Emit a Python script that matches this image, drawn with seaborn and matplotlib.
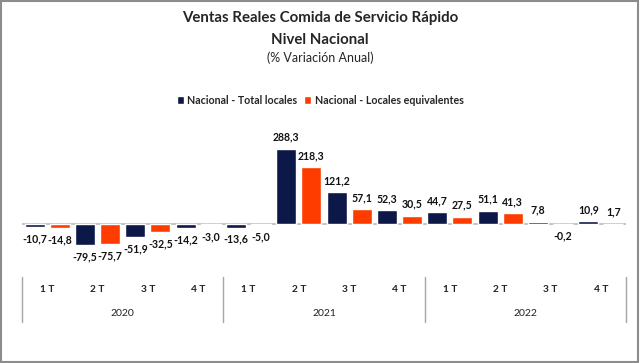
import pandas as pd
import matplotlib.pyplot as plt
import matplotlib.transforms as mtransforms
from matplotlib.patches import Rectangle
import seaborn as sns

# Data (% variación anual)
years = ['2020', '2021', '2022']
quarters = ['1 T', '2 T', '3 T', '4 T']
series_names = ['Nacional - Total locales', 'Nacional - Locales equivalentes']
total_locales = [-10.7, -79.5, -51.9, -14.2,
                 -13.6, 288.3, 121.2, 52.3,
                 44.7, 51.1, 7.8, 10.9]
locales_equiv = [-14.8, -75.7, -32.5, -3.0,
                 -5.0, 218.3, 57.1, 30.5,
                 27.5, 41.3, -0.2, 1.7]
colors = ['#0C1848', '#FF3C00']

periods = [f'{y} {q}' for y in years for q in quarters]
df = pd.DataFrame({
    'periodo': periods * 2,
    'valor': total_locales + locales_equiv,
    'serie': [series_names[0]] * len(periods) + [series_names[1]] * len(periods),
})

sns.set_style('white')
plt.rcParams['font.family'] = ['Lato', 'DejaVu Sans']

W, H = 640, 363
fig = plt.figure(figsize=(6.4, 3.63), dpi=100)
ax = fig.add_axes([22 / W, 1 - 260 / H, (626 - 22) / W, 120 / H])

sns.barplot(data=df, x='periodo', y='valor', hue='serie', palette=colors,
            width=1.0, gap=0.2, order=periods, hue_order=series_names,
            saturation=1, ax=ax)

# axis scale: zero line at y=224px, ~0.26 px per unit
ax.set_ylim(-138.5, 323)
ax.set_xlim(-0.5, len(periods) - 0.5)
ax.axhline(0, color='#BFBFBF', lw=1.3, zorder=0)
for s in ax.spines.values():
    s.set_visible(False)
ax.set_xticks([])
ax.set_yticks([])
ax.set_xlabel('')
ax.set_ylabel('')

for cont in ax.containers:
    labels = [f'{v:.1f}'.replace('.', ',') for v in cont.datavalues]
    ax.bar_label(cont, labels=labels, padding=4.5, fontsize=7.6, fontweight='bold',
                 color='#111111')

# legend
handles, labels = ax.get_legend_handles_labels()
ax.get_legend().remove()
fig.legend(handles, labels, loc='center', bbox_to_anchor=(0.5, 1 - 100 / H),
           ncol=2, frameon=False, handlelength=0.7, handleheight=0.7,
           handletextpad=0.3, columnspacing=0.6,
           prop={'size': 7.7, 'weight': 'bold'})

# two-level category axis
tr = mtransforms.blended_transform_factory(ax.transData, fig.transFigure)
for i, p in enumerate(periods):
    ax.text(i, 1 - 290 / H, p.split(' ', 1)[1], transform=tr, ha='center',
            va='center', fontsize=7.3, fontweight='bold', color='#222222')
for j, y in enumerate(years):
    ax.text(j * 4 + 1.5, 1 - 313 / H, y, transform=tr, ha='center',
            va='center', fontsize=7.5, color='#222222')
for j in range(len(years) + 1):
    ax.plot([j * 4 - 0.5] * 2, [1 - 277 / H, 1 - 322 / H], transform=tr,
            color='#A6A6A6', lw=1, clip_on=False)

# titles
fig.text(0.5, 1 - 18 / H, 'Ventas Reales Comida de Servicio Rápido',
         ha='center', va='center', fontsize=10.8, fontweight='bold')
fig.text(0.5, 1 - 40 / H, 'Nivel Nacional',
         ha='center', va='center', fontsize=10.8, fontweight='bold')
fig.text(0.5, 1 - 58 / H, '(% Variación Anual)',
         ha='center', va='center', fontsize=9)

# outer border
fig.patches.append(Rectangle((0.002, 0.003), 0.995, 0.994, transform=fig.transFigure,
                             fill=False, ec='#8C8C8C', lw=1.5))

fig.savefig('out.png', dpi=100)
